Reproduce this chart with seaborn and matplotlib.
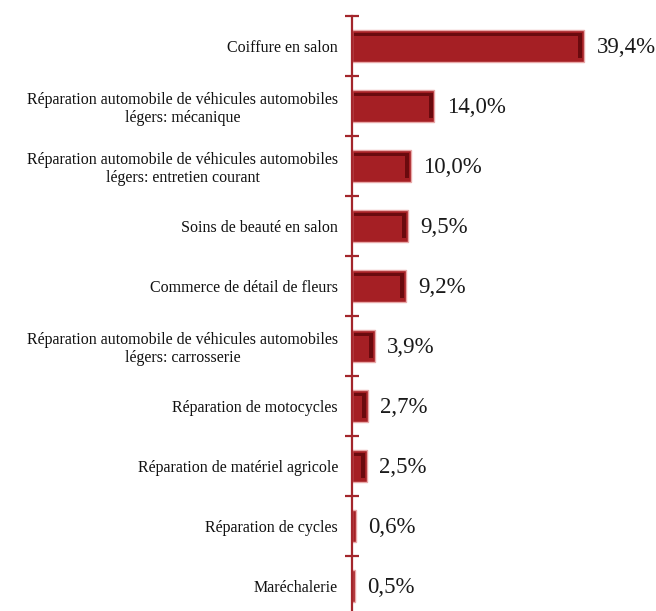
import matplotlib
matplotlib.use("Agg")
import matplotlib.pyplot as plt
import seaborn as sns
import pandas as pd
import numpy as np

categories = [
    "Coiffure en salon",
    "Réparation automobile de véhicules automobiles\nlégers: mécanique",
    "Réparation automobile de véhicules automobiles\nlégers: entretien courant",
    "Soins de beauté en salon",
    "Commerce de détail de fleurs",
    "Réparation automobile de véhicules automobiles\nlégers: carrosserie",
    "Réparation de motocycles",
    "Réparation de matériel agricole",
    "Réparation de cycles",
    "Maréchalerie",
]
values = [39.4, 14.0, 10.0, 9.5, 9.2, 3.9, 2.7, 2.5, 0.6, 0.5]
value_labels = ["39,4%", "14,0%", "10,0%", "9,5%", "9,2%", "3,9%", "2,7%", "2,5%", "0,6%", "0,5%"]

df = pd.DataFrame({"cat": categories, "val": values})

sns.set_style("white")
plt.rcParams["font.family"] = ["Liberation Serif", "DejaVu Serif"]

fig = plt.figure(figsize=(6.56, 6.11), dpi=100)
ax = fig.add_axes([352 / 656, -5 / 611, 294.5 / 656, 600 / 611])

bar_color = "#A51F24"
dark = "#6A0A0E"
sns.barplot(data=df, x="val", y="cat", orient="h", color=bar_color, width=0.53,
            saturation=1, edgecolor="#E9A9A9", linewidth=1.0, ax=ax)

# darker inner bevel on top and right
for p in ax.patches:
    x0, y0 = p.get_x(), p.get_y()
    w, h = p.get_width(), p.get_height()
    dx = 0.7
    dy = 0.055
    if w > 2 * dx:
        ax.fill_between([x0 + 0.3, x0 + w - 0.3], y0 + 0.045, y0 + 0.045 + dy,
                        color=dark, linewidth=0, zorder=3)
        ax.fill_between([x0 + w - 0.3 - dx, x0 + w - 0.3], y0 + 0.045, y0 + h - 0.06,
                        color=dark, linewidth=0, zorder=3)

for i, (v, lab) in enumerate(zip(values, value_labels)):
    ax.text(v + 2.1, i + 0.03, lab, va="center", ha="left", fontsize=16.5, color="#1a1a1a")

ax.set_xlim(0, 50)
ax.set_ylim(9.5, -0.5)
ax.set_xlabel("")
ax.set_ylabel("")
ax.set_xticks([])
for s in ["top", "right", "bottom"]:
    ax.spines[s].set_visible(False)
axis_red = "#A3262C"
ax.spines["left"].set_color(axis_red)
ax.spines["left"].set_linewidth(1.6)

ax.set_yticks(np.arange(-0.5, 10, 1.0), minor=True)
ax.tick_params(axis="y", which="major", left=True, length=0, pad=10, labelsize=11.5,
               labelcolor="#111111")
ax.tick_params(axis="y", which="minor", left=True, direction="inout", length=10,
               width=1.6, color=axis_red)

for t in ax.get_yticklabels():
    t.set_horizontalalignment("right")
    t.set_multialignment("center")
    t.set_linespacing(1.15)

fig.savefig("out.png", dpi=100)
